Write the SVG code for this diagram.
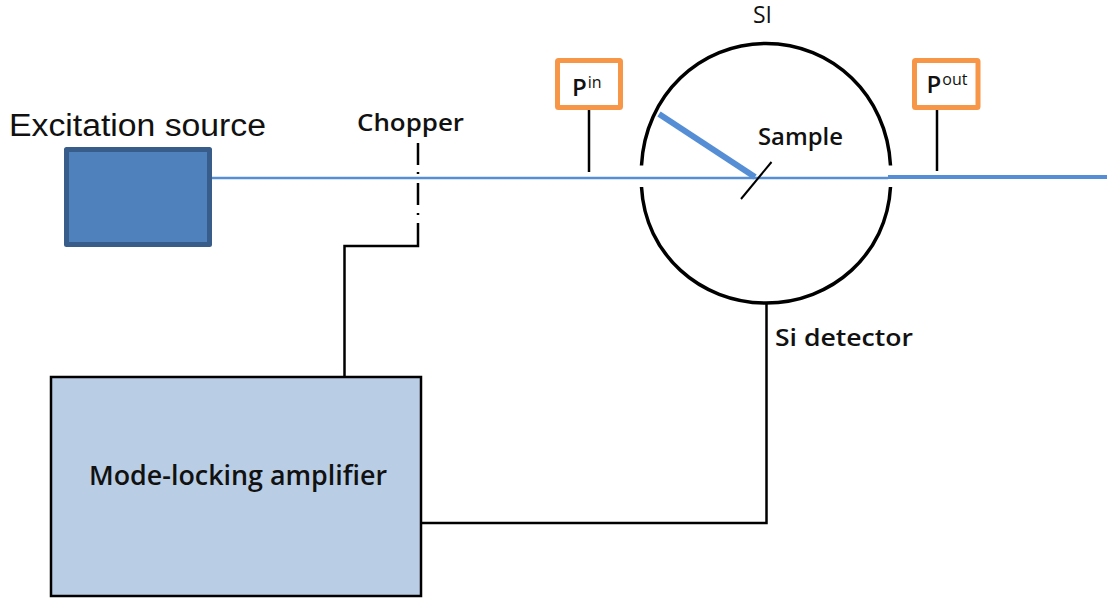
<svg xmlns="http://www.w3.org/2000/svg" width="1107" height="599" viewBox="0 0 1107 599">
<style>
.k{fill:none;stroke:#000;stroke-width:2.5}
.thin{stroke-width:2}
.arc{stroke-width:3.5}
.b{fill:none;stroke:#558ed5}
.b1{stroke-width:2.5}
.b2{stroke-width:4}
.b3{stroke-width:6}
.o{fill:#fff;stroke:#f79646;stroke-width:5}
text{font-family:"Open Sans","Noto Sans","Liberation Sans",sans-serif;font-weight:600;fill:#111}
.sup{font-size:16px;font-weight:500}
.plain{font-weight:400}
.arial{font-family:"Liberation Sans",sans-serif;font-weight:400}
</style>
<rect width="1107" height="599" fill="#fff"/>
<g id="connectors">
<path class="b b1" d="M212 178H888"/>
<path class="b b2" d="M888 177H1107"/>
<path class="b b3" d="M659 114L755 177"/>
<path class="k thin" d="M741 199L771.500 162"/>
<path class="k" d="M589 110V172"/>
<path class="k" d="M937 110V171"/>
<path class="k" d="M418 143V165M418 172V174M418 183V205M418 213V215M418 223V246H344.500V376"/>
<path class="k" d="M766.500 303V523H422"/>
</g>
<g id="si-sphere">
<path class="k arc" d="M641.500 165.500C645 95 700 43.500 766 43.500C832 43.500 887 95 890.500 165.500M641.500 187C645 254 700 303 766 303C832 303 887 254 890.500 187"/>
<text class="plain" x="753" y="23" font-size="23" fill="#333" textLength="19" lengthAdjust="spacingAndGlyphs">SI</text>
</g>
<g id="excitation-source">
<rect x="66.500" y="149.500" width="143" height="95" fill="#4f81bd" stroke="#385d8a" stroke-width="5" stroke-linejoin="round"/>
<text class="arial" x="9" y="136" font-size="31" textLength="257" lengthAdjust="spacingAndGlyphs">Excitation source</text>
</g>
<g id="chopper">
<text x="357" y="131" font-size="24" textLength="107" lengthAdjust="spacingAndGlyphs">Chopper</text>
</g>
<g id="pin">
<rect class="o" x="557.500" y="60.500" width="63" height="47" rx="1"/>
<text x="572" y="96" font-size="24">P<tspan class="sup" dy="-8" dx="1">in</tspan></text>
</g>
<g id="pout">
<rect class="o" x="914.500" y="60.500" width="63.500" height="47" rx="1"/>
<text x="926.500" y="93" font-size="24">P<tspan class="sup" dy="-8" dx="1">out</tspan></text>
</g>
<g id="sample">
<text x="758" y="145" font-size="24" textLength="85" lengthAdjust="spacingAndGlyphs">Sample</text>
</g>
<g id="si-detector">
<text x="775" y="346" font-size="24" textLength="138" lengthAdjust="spacingAndGlyphs">Si detector</text>
</g>
<g id="amplifier">
<rect x="51" y="377" width="370" height="219" fill="#b9cde5" stroke="#000" stroke-width="2.500"/>
<text x="89" y="485" font-size="27" textLength="298" lengthAdjust="spacingAndGlyphs">Mode-locking amplifier</text>
</g>
</svg>
